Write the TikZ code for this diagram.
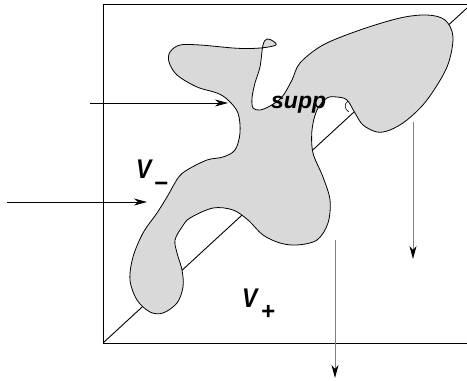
\documentclass[tikz,border=0pt]{standalone}
\usepackage{fontspec}
\setmainfont{Liberation Sans}
\usetikzlibrary{arrows.meta}
\definecolor{blobgray}{HTML}{D9D9D9}
\tikzset{
  frame/.style={line width=0.9pt, black},
  blob/.style={fill=blobgray, draw=black, line width=0.8pt},
  harrow/.style={line width=0.8pt, black, -{Stealth[length=13pt,width=7pt,inset=4pt]}},
  varrow/.style={line width=1pt, gray, -{Stealth[length=13pt,width=7pt,inset=4pt,color=black]}},
  lab/.style={font=\fontsize{27}{29}\selectfont\bfseries\itshape, inner sep=0pt, xscale=0.85},
  supplab/.style={font=\fontsize{23}{25}\selectfont\bfseries\itshape, inner sep=0pt},
  sublab/.style={font=\fontsize{24}{26}\selectfont\bfseries\itshape, inner sep=0pt}
}
\begin{document}
\begin{tikzpicture}[x=1pt,y=-1pt]
\useasboundingbox (0,0) rectangle (467,381);
% frame
\coordinate (tl) at (103,4);
\coordinate (tr) at (467,4);
\coordinate (bl) at (103,343);
\coordinate (br) at (467,343);
\coordinate (dend) at (467,8);
\draw[frame] (tr) -- (tl) -- (bl) -- (br);
\draw[frame] (bl) -- (dend);
% blob
\draw[blob] plot[smooth cycle, tension=0.55] coordinates {
 (276,45) (265,47.5) (250,48.5) (233,48) (200,45) (180,45) (170,52) (169,62) (177,75)
 (197,87) (217,93) (228,100) (238,113) (240,133) (235,150) (223,157) (207,160)
 (187,170) (178,178) (167,197) (157,213) (143,233) (133,257) (130,280) (137,300)
 (150,312) (163,313) (177,303) (183,287) (182,270) (177,253) (175,240) (182,227)
 (190,218) (213,208) (233,210) (248,220) (263,235) (280,243) (297,245) (317,240)
 (328,223) (330,200) (323,177) (313,153) (312,130) (317,110) (327,98) (337,97)
 (347,100) (355,113) (363,125) (377,132) (390,130) (407,120) (427,100) (447,67)
 (453,37) (445,20) (427,15) (400,18) (360,30) (323,45) (300,63) (292,80)
 (282,97) (270,106) (260,110) (253,108) (252,98) (255,83) (260,67) (263,45)
 (267,39) (273,41)
};
\draw[line width=0.6pt] (348,101) .. controls (344,104) and (344,109) .. (349,112);
% labels
\node[supplab, anchor=base west] (supp) at (271,108) {supp};
\node[lab, anchor=base west] (vm) at (136,178) {V};
\node[sublab, anchor=center] (vmsub) at (161,187) {−};
\node[lab, anchor=base west] (vp) at (242,307) {V};
\node[sublab, anchor=center] (vpsub) at (268,312) {+};
% arrows
\coordinate (a1s) at (90,103);
\coordinate (a1e) at (228,103);
\coordinate (a2s) at (7,202);
\coordinate (a2e) at (147,202);
\coordinate (a3s) at (413,122);
\coordinate (a3e) at (413,259);
\coordinate (a4s) at (335,240);
\coordinate (a4e) at (335,378);
\draw[harrow] (a1s) -- (a1e);
\draw[harrow] (a2s) -- (a2e);
\draw[varrow] (a3s) -- (a3e);
\draw[varrow] (a4s) -- (a4e);
\end{tikzpicture}
\end{document}
